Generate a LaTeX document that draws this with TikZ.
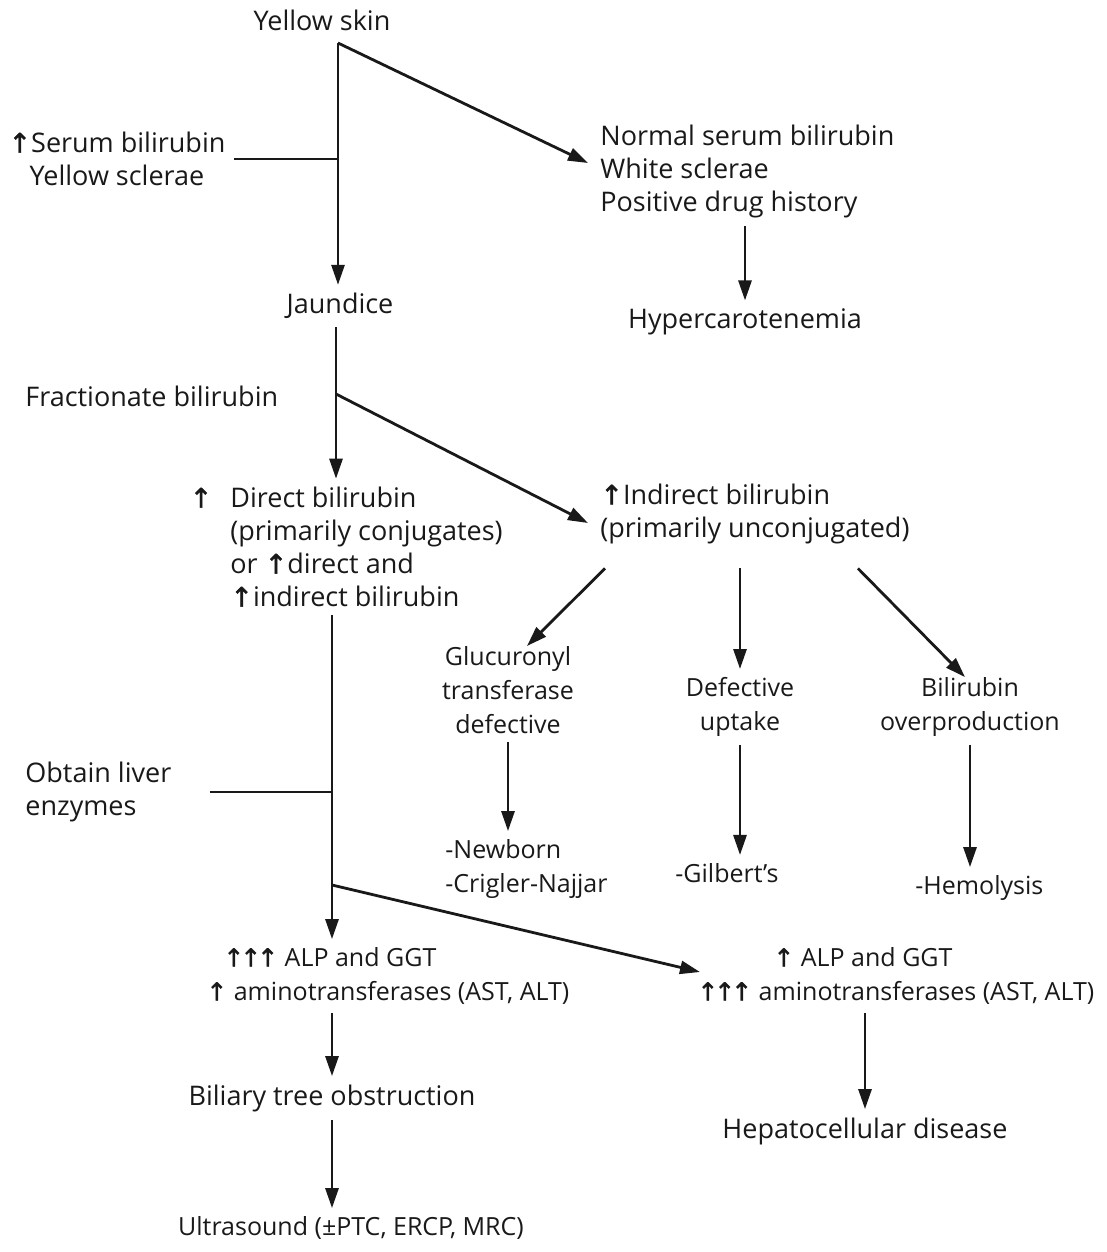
\documentclass[tikz,border=0pt]{standalone}
\usepackage{fontspec}
\setmainfont{Open Sans}
\newfontfamily\arrowfont{DejaVu Sans}[FakeBold=1.5]
\usepackage{xcolor}
\usetikzlibrary{arrows.meta,calc,positioning}
\definecolor{InkCol}{RGB}{25,25,25}
\tikzset{
  jdtxt/.style={font=\fontsize{13.5}{16.5}\selectfont, text=InkCol, inner sep=4pt},
  jdsmall/.style={jdtxt, font=\fontsize{12.5}{17}\selectfont},
  jdline/.style={line width=1.4pt, draw=InkCol},
  jdarrow/.style={-{Triangle[length=10pt,width=6.5pt]}, line width=1.4pt, draw=InkCol}
}
\newcommand{\Up}{{\arrowfont\char"2191}}
\newcommand{\UpUpUp}{\Up\kern-2pt\Up\kern-2pt\Up}

\begin{document}
\begin{tikzpicture}[x=0.5pt,y=-0.5pt]
  \useasboundingbox (0,0) rectangle (1107,1252);
  % text blocks
  \node[jdtxt] (ys) at (322,20) {Yellow skin};
  \node[jdtxt,align=center] (srm) at (117,159) {\Up Serum bilirubin\\Yellow sclerae};
  \node[jdtxt,align=left,anchor=west] (nrm) at (592,171)
    {Normal serum bilirubin\\White sclerae\\Positive drug history};
  \node[jdtxt] (hyp) at (745,322) {Hypercarotenemia};
  \node[jdtxt] (jau) at (340,306) {Jaundice};
  \node[jdtxt,anchor=west] (fra) at (17,396) {Fractionate bilirubin};
  \node[jdtxt,align=left,anchor=west] (dir) at (222,547)
    {\llap{\Up\hspace{9pt}}Direct bilirubin\\(primarily conjugates)\\or \Up direct and\\\Up indirect bilirubin};
  \node[jdtxt,align=left,anchor=west] (ind) at (592,514)
    {\Up Indirect bilirubin\\(primarily unconjugated)};
  \node[jdsmall,align=center] (glu) at (508,690) {Glucuronyl\\transferase\\defective};
  \node[jdsmall,align=center] (def) at (740,707) {Defective\\uptake};
  \node[jdsmall,align=center] (bil) at (970,707) {Bilirubin\\overproduction};
  \node[jdsmall,align=left,anchor=west] (nb) at (437,869) {-Newborn\\-Crigler-Najjar};
  \node[jdsmall,anchor=west] (gil) at (667,873) {-Gilbert's};
  \node[jdsmall,anchor=west] (hem) at (907,888) {-Hemolysis};
  \node[jdtxt,align=left,anchor=west] (obt) at (17,792) {Obtain liver\\enzymes};
  \node[jdsmall,align=left,anchor=west] (alp) at (198,976)
    {\hspace*{8.5pt}\UpUpUp\ ALP and GGT\\\Up\ aminotransferases (AST, ALT)};
  \node[jdsmall,align=left,anchor=west] (alp2) at (689,976)
    {\hspace*{38pt}\Up\ ALP and GGT\\\UpUpUp\ aminotransferases (AST, ALT)};
  \node[jdtxt] (bto) at (332,1098) {Biliary tree obstruction};
  \node[jdsmall] (us) at (351,1228) {Ultrasound (±PTC, ERCP, MRC)};
  \node[jdtxt] (hep) at (865,1131) {Hepatocellular disease};
  % branch points
  \coordinate (top) at (338,43);
  \coordinate (fork) at (336,394);
  \coordinate (spine) at (332,885);
  % connectors
  \draw[jdarrow] (top) -- (top |- jau.north);
  \draw[jdline] (srm.east) -- (srm.east -| top);
  \draw[jdarrow] (top) -- ($(nrm.west)+(-4,-8)$);
  \draw[jdarrow] (nrm.south -| hyp) -- (hyp.north);
  \draw[jdline] (jau.south -| fork) -- (fork);
  \draw[jdarrow] (fork) -- (fork |- dir.north);
  \draw[jdarrow] (fork) -- ($(ind.west)+(-4,9)$);
  \draw[jdarrow] ($(ind.south west)+(13,16)$) -- ($(glu.north)+(19,8)$);
  \draw[jdarrow] ($(ind.south -| def)+(0,16)$) -- (def.north);
  \draw[jdarrow] ($(ind.south east)+(-60,16)$) -- ($(bil.north)+(-5,8)$);
  \draw[jdarrow] (glu.south) -- (glu.south |- nb.north);
  \draw[jdarrow] (def.south) -- (def.south |- gil.north);
  \draw[jdarrow] (bil.south) -- (bil.south |- hem.north);
  \draw[jdarrow] (spine |- dir.south) -- (spine |- alp.north);
  \draw[jdline,shorten <=15pt] (obt.east) -- (obt.east -| spine);
  \draw[jdarrow] (spine) -- ($(alp2.west)+(11,-4)$);
  \draw[jdarrow] (spine |- alp.south) -- (spine |- bto.north);
  \draw[jdarrow] (spine |- bto.south) -- (spine |- us.north);
  \draw[jdarrow] (alp2.south -| hep) -- (hep.north);
\end{tikzpicture}
\end{document}
